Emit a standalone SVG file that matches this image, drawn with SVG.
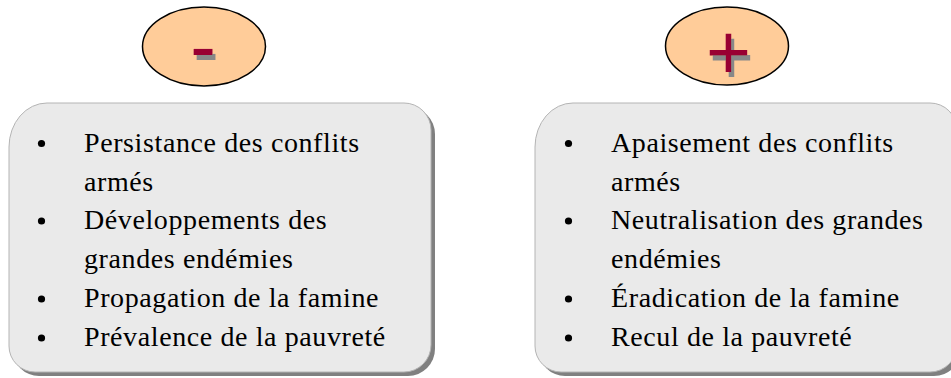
<svg xmlns="http://www.w3.org/2000/svg" xmlns:xlink="http://www.w3.org/1999/xlink" width="951" height="378" viewBox="0 0 951 378">
  <defs>
    <filter id="sh" x="-20%" y="-20%" width="160%" height="160%">
      <feFlood flood-color="#888888" result="c"/>
      <feComposite in="c" in2="SourceAlpha" operator="in" result="s"/>
      <feOffset in="s" dx="3" dy="5" result="o"/>
      <feMerge><feMergeNode in="o"/><feMergeNode in="SourceGraphic"/></feMerge>
    </filter>
    <path id="boxshape" d="M 47 103 H 404 A 27 27 0 0 1 431 130 V 345 A 27 27 0 0 1 404 372 H 35 A 26 26 0 0 1 9 346 V 147 A 38 44 0 0 1 47 103 Z"/>
  </defs>
  <style>
    .ell { fill: #ffcc99; stroke: #000000; stroke-width: 1.5; }
    .sign { font-family: "Liberation Sans", Arial, sans-serif; font-size: 77px; fill: #990033; text-anchor: middle; }
    .box { fill: #eaeaea; stroke: #b4b4b4; stroke-width: 1; }
    .boxsh { fill: #808080; }
    .txt { font-family: "Liberation Serif", "Times New Roman", serif; font-size: 28px; letter-spacing: 0.6px; fill: #000000; }
    .dot { fill: #000000; }
  </style>
  <rect width="951" height="378" fill="#ffffff"/>

  <g id="minus-node">
    <ellipse class="ell" cx="204" cy="46.5" rx="61.5" ry="39.5"/>
    <text class="sign" x="203" y="73" filter="url(#sh)">-</text>
  </g>

  <g id="plus-node">
    <ellipse class="ell" cx="727" cy="46" rx="61.5" ry="39"/>
    <text class="sign" x="728.5" y="78.5" filter="url(#sh)">+</text>
  </g>

  <g id="left-box">
    <use xlink:href="#boxshape" href="#boxshape" class="boxsh" transform="translate(4,4)"/>
    <use xlink:href="#boxshape" href="#boxshape" class="box"/>
    <circle class="dot" cx="41.5" cy="143.5" r="3.6"/>
    <circle class="dot" cx="41.5" cy="221" r="3.6"/>
    <circle class="dot" cx="41.5" cy="299" r="3.6"/>
    <circle class="dot" cx="41.5" cy="338" r="3.6"/>
    <text class="txt" x="84" y="152">Persistance des conflits</text>
    <text class="txt" x="84" y="190.5">armés</text>
    <text class="txt" x="84" y="229">Développements des</text>
    <text class="txt" x="84" y="268">grandes endémies</text>
    <text class="txt" x="84" y="307">Propagation de la famine</text>
    <text class="txt" x="84" y="346">Prévalence de la pauvreté</text>
  </g>

  <g id="right-box">
    <use xlink:href="#boxshape" href="#boxshape" class="boxsh" transform="translate(530,4)"/>
    <use xlink:href="#boxshape" href="#boxshape" class="box" transform="translate(526,0)"/>
    <circle class="dot" cx="568.5" cy="143.5" r="3.6"/>
    <circle class="dot" cx="568.5" cy="221" r="3.6"/>
    <circle class="dot" cx="568.5" cy="299" r="3.6"/>
    <circle class="dot" cx="568.5" cy="338" r="3.6"/>
    <text class="txt" x="611" y="152">Apaisement des conflits</text>
    <text class="txt" x="611" y="190.5">armés</text>
    <text class="txt" x="611" y="229">Neutralisation des grandes</text>
    <text class="txt" x="611" y="268">endémies</text>
    <text class="txt" x="611" y="307">Éradication de la famine</text>
    <text class="txt" x="611" y="346">Recul de la pauvreté</text>
  </g>

  <g id="connectors"/>
</svg>
